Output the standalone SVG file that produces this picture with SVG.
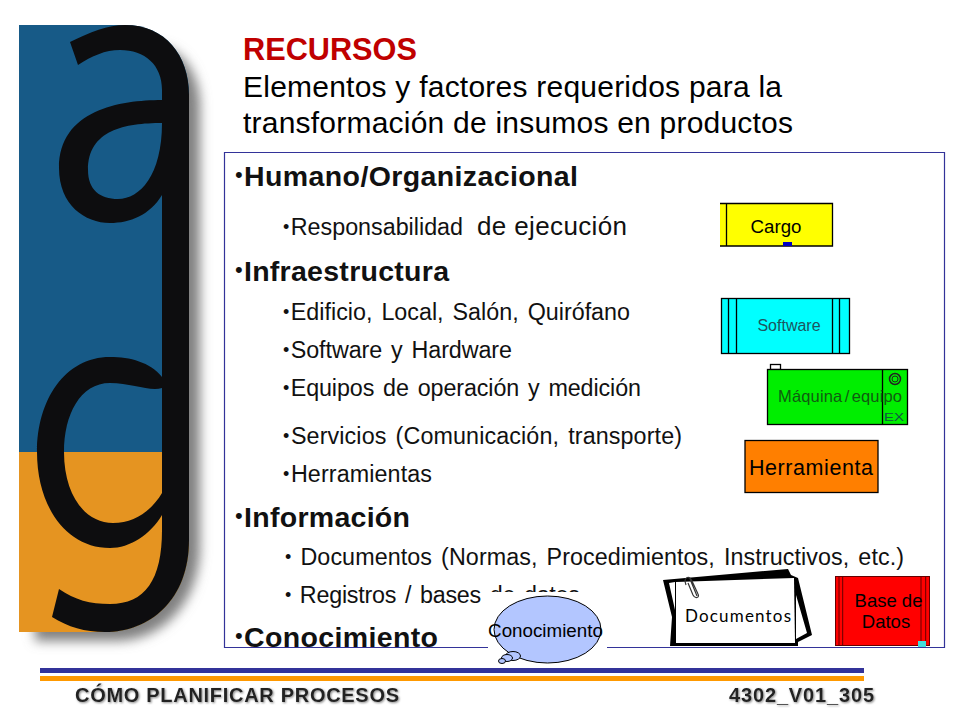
<svg xmlns="http://www.w3.org/2000/svg" width="960" height="720" viewBox="0 0 960 720">
<style>
text{font-family:"Liberation Sans",Arial,sans-serif;fill:#000}
.t{font-size:30px}
.h{font-size:28.500px;font-weight:bold;fill:#111}
.bl{font-size:22px;font-weight:normal}
.s{font-size:23.300px;fill:#111;word-spacing:2.500px}
.sb{font-size:18px}
.f{font-size:20px;font-weight:bold;fill:#222;filter:url(#ts)}
.b{stroke:#000;stroke-width:1.300}
.c{text-anchor:middle}
</style>
<defs>
<filter id="blur" x="-20%" y="-20%" width="140%" height="140%"><feGaussianBlur stdDeviation="6"/></filter>
<filter id="ts" x="-5%" y="-30%" width="110%" height="170%"><feDropShadow dx="1" dy="1" stdDeviation="0.800" flood-color="#888"/></filter>
</defs>
<rect width="960" height="720" fill="#fff"/>
<g id="logo">
<path d="M30 50H140C175 35 200 70 200 105V545C200 600 165 641 115 641H35Z" fill="#808080" filter="url(#blur)"/>
<path d="M19 25H125C165 25 189 55 189 95V540C189 600 150 632 105 632H19Z" fill="#175a87"/>
<path d="M19 452H189V540C189 600 150 632 105 632H19Z" fill="#e59421"/>
<path fill="#0d0d0f" fill-rule="evenodd" d="M70 42C90 32 108 25 125 25C165 25 189 55 189 95V540C189 600 150 632 105 632C85 632 68 627 52 617L59 589C75 600 90 604 110 604C145 604 162 580 162 530V515C150 535 130 548 110 548C65 548 37 505 37 452C37 400 65 357 110 357C130 357 150 362 162 377V195C150 215 130 223 110 223C85 223 59 205 59 168C59 110 120 100 162 100V90C162 65 145 50 120 50C105 50 92 56 78 65ZM162 123C125 123 88 130 88 170C88 190 100 199 118 199C140 199 162 175 162 123ZM162 388C150 392 132 383 110 383C80 383 64 415 64 452C64 495 85 523 113 523C135 523 152 510 162 493Z"/>
</g>
<g id="title">
<text x="243" y="60" style="font-size:30.700px;font-weight:bold;fill:#c00000">RECURSOS</text>
<text x="243" y="97" class="t" textLength="539">Elementos y factores requeridos para la</text>
<text x="243" y="133" class="t" textLength="550">transformación de insumos en productos</text>
</g>
<g id="panel">
<path d="M488 647.500H224.500V152.500H944.500V647.500H607" fill="none" stroke="#333399" stroke-width="1.200"/>
<text x="235" y="186" class="h" textLength="343"><tspan class="bl" dy="-4">•</tspan><tspan dy="4" dx="1">Humano/Organizacional</tspan></text>
<text x="283" y="234.500" class="s" textLength="180"><tspan class="sb" dy="-2">•</tspan><tspan dy="2" dx="1.500">Responsabilidad</tspan></text>
<text x="477" y="234.500" style="font-size:26px;fill:#111" textLength="150">de ejecución</text>
<text x="235" y="281" class="h" textLength="214"><tspan class="bl" dy="-4">•</tspan><tspan dy="4" dx="1">Infraestructura</tspan></text>
<text x="283" y="319.500" class="s" textLength="347"><tspan class="sb" dy="-2">•</tspan><tspan dy="2" dx="1.500">Edificio, Local, Salón, Quirófano</tspan></text>
<text x="283" y="357.500" class="s" textLength="229"><tspan class="sb" dy="-2">•</tspan><tspan dy="2" dx="1.500">Software y Hardware</tspan></text>
<text x="283" y="395.500" class="s" textLength="358"><tspan class="sb" dy="-2">•</tspan><tspan dy="2" dx="1.500">Equipos de operación y medición</tspan></text>
<text x="283" y="443.500" class="s" textLength="399"><tspan class="sb" dy="-2">•</tspan><tspan dy="2" dx="1.500">Servicios (Comunicación, transporte)</tspan></text>
<text x="283" y="482" class="s" textLength="149"><tspan class="sb" dy="-2">•</tspan><tspan dy="2" dx="1.500">Herramientas</tspan></text>
<text x="235" y="527" class="h" textLength="175"><tspan class="bl" dy="-4">•</tspan><tspan dy="4" dx="1">Información</tspan></text>
<text x="285" y="564.500" class="s" textLength="619"><tspan class="sb" dy="-2">•</tspan><tspan dy="2"> Documentos (Normas, Procedimientos, Instructivos, etc.)</tspan></text>
<text x="285" y="602.500" class="s" textLength="295"><tspan class="sb" dy="-2">•</tspan><tspan dy="2"> Registros / bases de datos</tspan></text>
<text x="235" y="647" class="h" textLength="203"><tspan class="bl" dy="-4">•</tspan><tspan dy="4" dx="1">Conocimiento</tspan></text>
</g>
<g id="cargo">
<path d="M720 203.500H832.500V246H720M726.500 203.500V246" fill="#ff0" stroke="#000" stroke-width="1.300"/>
<rect x="783" y="242" width="9" height="4" fill="#0000c0"/>
<text x="776" y="232.500" class="c" style="font-size:18.700px">Cargo</text>
</g>
<g id="software">
<rect x="721.500" y="298.500" width="128" height="55" fill="#0ff" class="b"/>
<path d="M728.500 298.500V353.500M736.500 298.500V353.500M832.500 298.500V353.500M839.500 298.500V353.500" class="b"/>
<text x="789" y="331" class="c" style="font-size:16px;fill:#1d5560">Software</text>
</g>
<g id="maquina">
<rect x="770.500" y="364.500" width="10" height="5" fill="#fff" class="b"/>
<rect x="767.500" y="369.500" width="140" height="55" fill="#0e0" class="b"/>
<path d="M882.500 369.500V424.500" class="b"/>
<circle cx="895" cy="379" r="5.500" fill="none" stroke="#222" stroke-width="1.500"/>
<circle cx="895" cy="379" r="3" fill="none" stroke="#222"/>
<text x="840" y="402" class="c" style="font-size:16.500px;fill:#115c11;word-spacing:-2.500px" textLength="124">Máquina / equipo</text>
<text x="884" y="421" style="font-size:11px;fill:#154" textLength="20" lengthAdjust="spacingAndGlyphs">EX</text>
</g>
<g id="herramienta">
<rect x="745" y="440.500" width="133" height="52" fill="#ff7f00" class="b"/>
<text x="811" y="475" class="c" style="font-size:21.500px" textLength="124">Herramienta</text>
</g>
<g id="conocimiento">
<rect x="488" y="592" width="119" height="72" fill="#fff"/>
<ellipse cx="547.500" cy="629.500" rx="53.500" ry="33.500" fill="#b3c6ff" stroke="#000"/>
<ellipse cx="513" cy="656" rx="7.500" ry="4.500" fill="#b3c6ff" stroke="#000"/>
<ellipse cx="507" cy="658" rx="5.500" ry="3.500" fill="#b3c6ff" stroke="#000"/>
<ellipse cx="502" cy="661" rx="3.500" ry="2.500" fill="#b3c6ff" stroke="#000"/>
<text x="545.500" y="637" class="c" style="font-size:18.800px">Conocimiento</text>
</g>
<g id="documentos">
<path d="M663 580L788 569L791 575L798 578L812 635L798 642V646H670L672 617Z" fill="#000"/>
<path d="M669 583L675 582V610ZM796 595L807 633L796 639Z" fill="#fff"/>
<path d="M676 582L794 578L795 643H676Z" fill="#fff"/>
<path d="M686 585C683 577 689 575 692 581L698 594C700 598 695 599 693 595L688 583M690 579L697 596" fill="none" stroke="#333" stroke-width="1.200"/>
<text x="738" y="622" class="c" style="font-size:17px;font-family:'Lato','Liberation Sans',sans-serif" textLength="106">Documentos</text>
</g>
<g id="basedatos">
<rect x="835.500" y="576.500" width="94" height="69" fill="#f00" stroke="#600" stroke-width="1"/>
<path d="M839 576.500V645.500M842.700 576.500V645.500M921 576.500V645.500M925.700 576.500V645.500" stroke="#600"/>
<rect x="918" y="641" width="8" height="6" fill="#4dd"/>
<text x="888.500" y="607" class="c" style="font-size:18.500px">Base de</text>
<text x="886" y="628" class="c" style="font-size:18.500px">Datos</text>
</g>
<g id="footer">
<rect x="40" y="668" width="824" height="5" fill="#333399"/>
<rect x="40" y="676" width="824" height="5" fill="#f90"/>
<text x="75" y="702" class="f" textLength="324">CÓMO PLANIFICAR PROCESOS</text>
<text x="729" y="702" class="f" textLength="145">4302_V01_305</text>
</g>
</svg>
